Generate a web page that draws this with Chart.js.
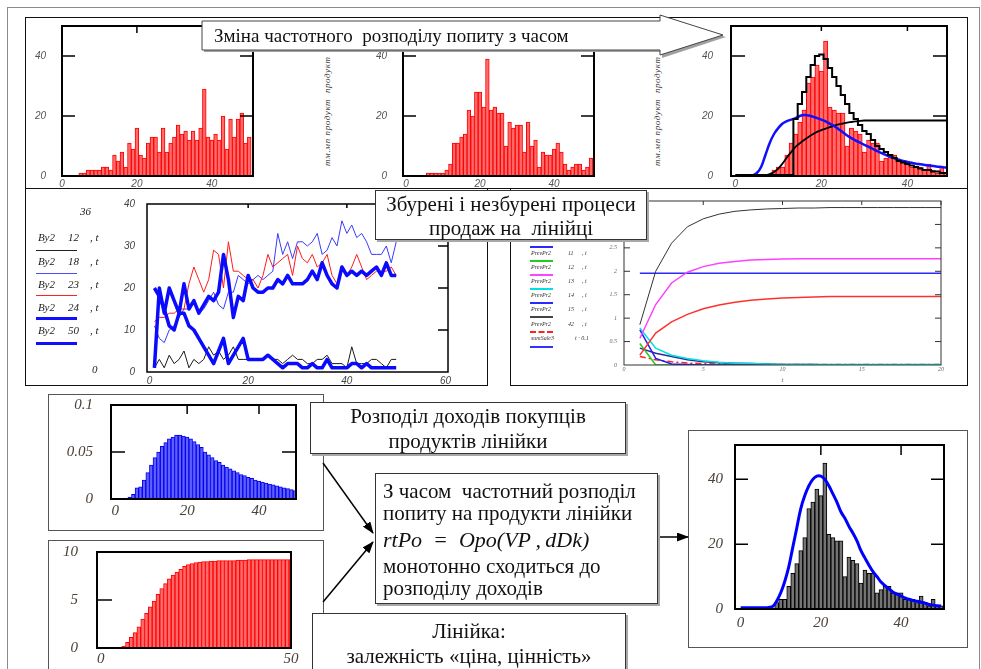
<!DOCTYPE html>
<html>
<head>
<meta charset="utf-8">
<script src="https://cdn.jsdelivr.net/npm/chart.js@4.4.1/dist/chart.umd.min.js"></script>
<style>
  body { margin: 0; width: 981px; height: 669px; overflow: hidden; position: relative; background: #fff; font-family: "Liberation Serif", serif; color: #111; }
  canvas { position: absolute; }
  .frame { position: absolute; border: 1px solid #111; box-sizing: border-box; }
  .box { position: absolute; background: #fff; border: 1px solid #333; box-sizing: border-box; box-shadow: 2px 2px 0 #a8a8a8; font-size: 21px; white-space: nowrap; }
  .lg { position: absolute; font: italic 11px "Liberation Serif", serif; color: #222; white-space: nowrap; }
  .lg5 { position: absolute; font: italic 6px "Liberation Serif", serif; color: #333; white-space: nowrap; }
  .ln { position: absolute; height: 0; }
  .rot { position: absolute; font: italic 9px "Liberation Serif", serif; color: #333; white-space: nowrap; letter-spacing: 0.6px; transform-origin: 0 0; transform: rotate(-90deg); }
</style>
</head>
<body>
<div class="frame" style="left:7px;top:7px;width:973px;height:670px;border-color:#8a8a8a"></div>
<div class="frame" style="left:25px;top:17px;width:943px;height:172px"></div>
<div class="frame" style="left:25px;top:188px;width:463px;height:198px"></div>
<div class="frame" style="left:510px;top:188px;width:458px;height:198px"></div>
<div class="frame" style="left:48px;top:394px;width:276px;height:137px;border-color:#555"></div>
<div class="frame" style="left:48px;top:540px;width:276px;height:140px;border-color:#555"></div>
<div class="frame" style="left:688px;top:430px;width:280px;height:218px;border-color:#555"></div>

<div id="charts"></div>

<div class="rot" style="left:322px;top:166px">тм.мп продукт&nbsp; продукт</div>
<div class="rot" style="left:652px;top:166px">тм.мп продукт&nbsp; продукт</div>

<!-- legend of the disturbed / undisturbed sales plot -->
<div class="lg" style="left:80px;top:205px">36</div>
<div class="lg" style="left:38px;top:231px">Ву2</div><div class="lg" style="left:68px;top:231px">12</div><div class="lg" style="left:90px;top:231px">, t</div>
<div class="ln" style="left:36px;top:250px;width:41px;border-top:1px solid #222"></div>
<div class="lg" style="left:38px;top:255px">Ву2</div><div class="lg" style="left:68px;top:255px">18</div><div class="lg" style="left:90px;top:255px">, t</div>
<div class="ln" style="left:36px;top:273px;width:41px;border-top:1px solid #4a4aff"></div>
<div class="lg" style="left:38px;top:278px">Ву2</div><div class="lg" style="left:68px;top:278px">23</div><div class="lg" style="left:90px;top:278px">, t</div>
<div class="ln" style="left:36px;top:295px;width:41px;border-top:1px solid #ff2020"></div>
<div class="lg" style="left:38px;top:301px">Ву2</div><div class="lg" style="left:68px;top:301px">24</div><div class="lg" style="left:90px;top:301px">, t</div>
<div class="ln" style="left:36px;top:317px;width:41px;border-top:3px solid #1010ff"></div>
<div class="lg" style="left:38px;top:324px">Ву2</div><div class="lg" style="left:68px;top:324px">50</div><div class="lg" style="left:90px;top:324px">, t</div>
<div class="ln" style="left:36px;top:342px;width:41px;border-top:3px solid #1010ff"></div>
<div class="lg" style="left:92px;top:363px">0</div>

<!-- legend of the price process plot -->
<div class="ln" style="left:530px;top:246px;width:23px;border-top:2px solid #2828ff"></div>
<div class="lg5" style="left:531px;top:250px">PrevPr2</div><div class="lg5" style="left:568px;top:250px">11</div><div class="lg5" style="left:582px;top:250px">, t</div>
<div class="ln" style="left:530px;top:260px;width:23px;border-top:2px solid #22cc22"></div>
<div class="lg5" style="left:531px;top:264px">PrevPr2</div><div class="lg5" style="left:568px;top:264px">12</div><div class="lg5" style="left:582px;top:264px">, t</div>
<div class="ln" style="left:530px;top:274px;width:23px;border-top:2px solid #ff44ff"></div>
<div class="lg5" style="left:531px;top:278px">PrevPr2</div><div class="lg5" style="left:568px;top:278px">13</div><div class="lg5" style="left:582px;top:278px">, t</div>
<div class="ln" style="left:530px;top:288px;width:23px;border-top:2px solid #00e0e0"></div>
<div class="lg5" style="left:531px;top:292px">PrevPr2</div><div class="lg5" style="left:568px;top:292px">14</div><div class="lg5" style="left:582px;top:292px">, t</div>
<div class="ln" style="left:530px;top:302px;width:23px;border-top:2px solid #2828ff"></div>
<div class="lg5" style="left:531px;top:306px">PrevPr2</div><div class="lg5" style="left:568px;top:306px">15</div><div class="lg5" style="left:582px;top:306px">, t</div>
<div class="ln" style="left:530px;top:316px;width:23px;border-top:2px solid #444"></div>
<div class="lg5" style="left:531px;top:321px">PrevPr2</div><div class="lg5" style="left:568px;top:321px">42</div><div class="lg5" style="left:582px;top:321px">, t</div>
<div class="ln" style="left:530px;top:331px;width:23px;border-top:2px dashed #ff2020"></div>
<div class="lg5" style="left:531px;top:335px">sumSale3</div><div class="lg5" style="left:575px;top:335px">t · 0.1</div>
<div class="ln" style="left:530px;top:346px;width:23px;border-top:2px solid #3333ff"></div>

<svg width="981" height="669" style="position:absolute;left:0;top:0">
  <defs>
    <marker id="ah" markerWidth="12" markerHeight="9" refX="11" refY="4.5" orient="auto" markerUnits="userSpaceOnUse">
      <path d="M0,0 L12,4.5 L0,9 z" fill="#000"/>
    </marker>
  </defs>
  <polygon points="204,23 662,23 662,17 726,37 662,58 662,52 204,52" fill="#a0a0a0"/>
  <polygon points="202,21 660,21 660,15 723,35 660,55 660,50 202,50" fill="#fff" stroke="#444" stroke-width="1"/>
  <line x1="323" y1="463" x2="373" y2="533" stroke="#000" stroke-width="1.5" marker-end="url(#ah)"/>
  <line x1="323" y1="602" x2="373" y2="542" stroke="#000" stroke-width="1.5" marker-end="url(#ah)"/>
  <line x1="658" y1="537" x2="688" y2="537" stroke="#000" stroke-width="1.5" marker-end="url(#ah)"/>
</svg>

<div style="position:absolute;left:214px;top:25px;font-size:19px;line-height:21px;white-space:pre">Зміна частотного  розподілу попиту з часом</div>

<div class="box" style="left:375px;top:190px;width:272px;height:50px;text-align:center;line-height:24px;padding-top:1px">Збурені і незбурені процеси<br>продаж на&nbsp; лінійці</div>
<div class="box" style="left:310px;top:402px;width:316px;height:52px;text-align:center;line-height:25px;padding-top:1px">Розподіл доходів покупців<br>продуктів лінійки</div>
<div class="box" style="left:375px;top:473px;width:283px;height:131px;padding-left:7px">
  <div style="line-height:22px;margin-top:6px">З часом&nbsp; частотний розподіл</div>
  <div style="line-height:22px">попиту на продукти лінійки</div>
  <div style="line-height:31px;font-style:italic;font-size:22px">rtPo&nbsp; =&nbsp; Opo(VP&thinsp;,&thinsp;dDk)</div>
  <div style="line-height:22px">монотонно сходиться до</div>
  <div style="line-height:22px">розподілу доходів</div>
</div>
<div class="box" style="left:312px;top:613px;width:314px;height:66px;text-align:center;line-height:25px;padding-top:5px">Лінійка:<br>залежність «ціна, цінність»</div>

<script>
// bin numbers 1..50 (histogram categories and time steps)
const binX = [1,2,3,4,5,6,7,8,9,10,11,12,13,14,15,16,17,18,19,20,21,22,23,24,25,26,27,28,29,30,31,32,33,34,35,36,37,38,39,40,41,42,43,44,45,46,47,48,49,50];
const curveX = [0, ...binX.slice(0, 49)];   // 0..49
const fitX = [0, ...binX];                  // 0..50
const periods5 = binX.slice(0, 20);         // 1..20

// top row: frequency distribution of demand at three moments
const hist1 = [0,0,0,0,1,1,2,2,2,2,3,3,2,7,5,8,3,11,9,16,7,6,11,13,13,8,16,8,11,13,17,14,15,12,15,12,16,29,13,12,14,12,20,9,19,13,19,21,11,13];
const hist2 = [0,0,0,0,0,1,1,1,1,1,2,4,11,11,13,14,22,20,28,28,23,39,22,23,21,21,10,18,16,17,17,8,18,10,12,3,8,7,7,9,11,8,4,2,3,4,4,2,3,6];
const histFinal = [0,0,0,0,0,0,0,0,2,3,3,7,11,14,18,22,31,33,37,35,45,23,22,21,21,10,16,15,14,8,12,11,11,5,6,7,7,5,5,5,3,3,3,2,4,2,1,3,1,1];
const stepOutline = [0.3,0.3,0.3,0.3,0.3,0.3,0.3,0.3,0.3,0.3,0.3,0.3,0.3,0.3,19,24,28,33,37,40,40.5,39,36,33,30,27,24,21,19,17,15,14,12,10,9,8,7,6,5,4.5,4,3.5,3,2.5,2,2,1.5,1.5,1,1];
const demandCurve = [0,0,0,0,0.2,1,3,7,11,14,16,17.5,18.3,18.8,19.3,20,20.3,20.2,19.8,19.3,18.8,18.2,17.4,16.6,15.6,14.6,13.5,12.6,11.8,11.1,10.4,9.7,9,8.3,7.6,7,6.4,5.9,5.4,5,4.7,4.4,4.1,3.9,3.7,3.5,3.3,3.1,3,2.8];
const cumulCurve = [0,0.2,0.2,0.2,0.2,0.2,0.2,0.3,0.6,1.3,2.5,4.2,6.2,8,9.7,10.9,12,13,13.9,14.7,15.3,15.8,16.3,16.8,17.2,17.5,17.8,18,18.2,18.4,18.5,18.5,18.5,18.5,18.5,18.5,18.5,18.5,18.5,18.5,18.5,18.5,18.5,18.5,18.5,18.5,18.5,18.5,18.5,18.5];

// middle left: sales Ву2 of products 12, 18, 23, 24, 50 over time
const sales12 = [1,3,1,4,2,3,5,1,3,2,3,6,4,5,3,4,6,3,3,3,3,3,3,4,3,3,2,3,4,3,3,2,2,3,3,4,2,2,2,1,6,2,2,2,3,3,2,1,3,3];
const sales18 = [11,8,7,10,11,13,15,15,17,14,15,17,19,16,15,19,19,23,22,21,22,23,22,23,24,33,28,31,27,31,31,30,31,33,28,29,32,30,36,33,35,32,33,31,28,28,28,30,26,31];
const sales23 = [12,13,13,14,14,15,15,21,25,22,19,22,29,28,20,31,24,24,23,22,22,20,23,28,25,26,27,28,23,30,27,26,28,25,26,28,23,21,25,23,25,28,25,22,23,24,24,24,25,23];
const sales24 = [1,20,14,20,17,14,21,15,17,14,16,18,17,19,28,22,13,18,17,23,20,19,19,20,20,22,21,23,21,21,21,22,24,22,26,23,21,20,25,23,24,23,24,23,24,25,23,26,23,23];
const sales50 = [20,18,15,11,10,14,14,11,10,8,6,4,2,5,8,2,4,6,8,3,3,3,3,4,3,2,1,2,2,2,1,1,2,1,1,3,1,1,1,1,2,2,1,2,1,1,1,1,1,1];

// middle right: PrevPr2 processes and sumSale3
const prevBlack = [0.86,2.0,2.6,2.95,3.12,3.22,3.28,3.31,3.33,3.34,3.35,3.35,3.36,3.36,3.36,3.36,3.36,3.36,3.36,3.36];
const prevMagenta = [0.57,1.29,1.75,1.98,2.1,2.17,2.21,2.24,2.25,2.26,2.27,2.27,2.27,2.27,2.27,2.27,2.27,2.27,2.27,2.27];
const prevFlat = [1.96,1.96,1.96,1.96,1.96,1.96,1.96,1.96,1.96,1.96,1.96,1.96,1.96,1.96,1.96,1.96,1.96,1.96,1.96,1.96];
const prevRed = [0.21,0.68,0.92,1.08,1.2,1.28,1.34,1.38,1.41,1.43,1.44,1.45,1.46,1.46,1.46,1.46,1.46,1.46,1.46,1.46];
const prevCyan = [0.79,0.36,0.21,0.14,0.09,0.06,0.04,0.03,0.02,0.01,0.01,0.01,0.01,0.01,0.01,0.01,0.01,0.01,0.01,0.01];
const prevBlue = [0.75,0.14,0.02,0.01,0,0,0,0,0,0,0,0,0,0,0,0,0,0,0,0];
const prevGreen = [0.46,0,0,0,0,0,0,0,0,0,0,0,0,0,0,0,0,0,0,0];
const prevNavy = [0.36,0.25,0.18,0.11,0.07,0.05,0.04,0.03,0.02,0.01,0.01,0.01,0,0,0,0,0,0,0,0];
const sumSale = [0.18,0.11,0.07,0.04,0.03,0.02,0.02,0.01,0.01,0.01,0.01,0.01,0.01,0.01,0.01,0.01,0.01,0.01,0.01,0.01];

// bottom: income distribution, price-value line, fitted demand curve
const incomeDensity = [0,0,0,0.002,0.005,0.012,0.013,0.02,0.028,0.036,0.044,0.05,0.056,0.06,0.064,0.066,0.068,0.068,0.067,0.066,0.064,0.061,0.058,0.055,0.05,0.047,0.044,0.041,0.039,0.036,0.034,0.032,0.03,0.028,0.026,0.025,0.023,0.022,0.02,0.019,0.018,0.017,0.016,0.015,0.014,0.013,0.012,0.011,0.01,0.009];
const priceValue = [0,0,0,0,0,0.2,0.6,1.1,1.6,2.2,3,3.6,4.3,4.9,5.6,6.2,6.7,7.2,7.6,7.9,8.2,8.5,8.7,8.8,8.9,8.95,9,9,9.05,9.05,9.1,9.1,9.1,9.1,9.1,9.15,9.15,9.15,9.2,9.2,9.2,9.2,9.2,9.2,9.2,9.2,9.2,9.2,9.2,9.2];
const fitCurve = [0.4,0.4,0.4,0.4,0.4,0.4,0.4,0.5,0.8,2.5,5,8.5,13,19,25,31,35,38,40,41,41,40,38,35.5,33,30,28,25.5,23.4,21,18,15.7,13.5,11.5,10,8.3,7.2,6.2,5.2,4.6,4,3.4,3,2.6,2.4,2.1,1.8,1.4,1.2,1,0.9];

// tick labels
const ticksHist = [0, 20, 40];
const ticksSales = [0, 10, 20, 30, 40];
const ticksSalesT = [0, 20, 40, 60];
const ticksPrev = [0, 0.5, 1, 1.5, 2, 2.5, 3, 3.5];
const ticksPrevT = [0, 5, 10, 15, 20];
const ticksDensity = [0, 0.05, 0.1];
const ticksPrice = [0, 5, 10];
const ticksPriceX = [0, 50];

Chart.defaults.font.family = '"Liberation Serif", serif';
Chart.defaults.animation = false;

// box round the plot plus the short inward ticks Mathcad draws
Chart.register({
  id: "frame",
  afterDatasetsDraw(chart, args, o) {
    const { ctx, chartArea: a, scales } = chart;
    ctx.save();
    ctx.strokeStyle = o.color;
    ctx.lineWidth = o.tickWidth;
    ctx.beginPath();
    for (const v of o.left) { const p = scales.y.getPixelForValue(v); ctx.moveTo(a.left, p); ctx.lineTo(a.left + o.len, p); }
    for (const v of o.right) { const p = scales.y.getPixelForValue(v); ctx.moveTo(a.right, p); ctx.lineTo(a.right - o.len, p); }
    for (const v of o.top) { const p = scales.x.getPixelForValue(v); ctx.moveTo(p, a.top); ctx.lineTo(p, a.top + o.topLen); }
    ctx.stroke();
    ctx.lineWidth = o.width;
    ctx.strokeRect(a.left, a.top, a.right - a.left, a.bottom - a.top);
    ctx.restore();
  },
});

function frame(left, right, top, len, topLen, width, color) {
  return { left, right, top, len, topLen, width, tickWidth: width === 1 ? 1 : 1.5, color: color || "#000" };
}

function axis(min, max, ticks, font, color, padding) {
  return {
    type: "linear", min, max, offset: false,
    grid: { display: false, drawTicks: false },
    border: { display: false },
    afterBuildTicks: (s) => { s.ticks = ticks.map((v) => ({ value: v })); },
    ticks: { font, color, padding, maxRotation: 0, autoSkip: false, callback: (v) => String(v) },
  };
}

function bars(xs, ys, fill, border) {
  return {
    type: "bar", data: xs.map((x, i) => ({ x, y: ys[i] })),
    backgroundColor: fill, borderColor: border, borderWidth: 1,
    barPercentage: 1, categoryPercentage: 1, grouped: false, order: 2,
  };
}

function line(xs, ys, color, width, extra) {
  return Object.assign({
    type: "line", data: xs.map((x, i) => ({ x, y: ys[i] })),
    borderColor: color, borderWidth: width, pointRadius: 0, fill: false, tension: 0, order: 1,
  }, extra || {});
}

// plot box in page pixels; canvas is grown round it for the axes.
// the y labels' padding also pads the chart area top/bottom, so leave room for it
function makeChart(p, type, datasets, scales, frameOpts) {
  const ypad = scales.y.ticks.padding;
  const pt = Math.max(p.pt, ypad + 12), xh = Math.max(p.xh, ypad + 12);
  const c = document.createElement("canvas");
  const w = p.yw + (p.r - p.l) + p.pr, h = pt + (p.b - p.t) + xh;
  c.width = w; c.height = h;
  c.style.left = p.l - p.yw + "px"; c.style.top = p.t - pt + "px";
  c.style.width = w + "px"; c.style.height = h + "px";
  document.getElementById("charts").appendChild(c);
  scales.x.afterFit = (s) => { s.height = xh; };
  scales.y.afterFit = (s) => { s.width = p.yw; };
  return new Chart(c, {
    type,
    data: { datasets },
    options: {
      responsive: false,
      layout: { padding: { top: pt, right: p.pr, left: 0, bottom: 0 } },
      plugins: { legend: { display: false }, tooltip: { enabled: false }, frame: frameOpts },
      scales,
    },
  });
}

const topFont = { size: 10, style: "italic", family: '"Liberation Sans", sans-serif' };
const midFont = { size: 10, style: "italic", family: '"Liberation Sans", sans-serif' };
const tinyFont = { size: 6, style: "italic" };
const lowFont = { size: 15, style: "italic" };
const redFill = "#ff6b6b", red = "#ff0000";

// top row
makeChart({ l: 62, t: 26, r: 253, b: 176, yw: 40, xh: 16, pt: 10, pr: 12 }, "bar",
  [bars(binX, hist1, redFill, red)],
  { x: axis(0, 51, ticksHist, topFont, "#555", 2), y: axis(0, 50, ticksHist, topFont, "#555", 16) },
  frame([20, 40], [20, 40], [20, 40], 13, 7, 2));

makeChart({ l: 403, t: 26, r: 594, b: 176, yw: 40, xh: 16, pt: 10, pr: 12 }, "bar",
  [bars(binX, hist2, redFill, red)],
  { x: axis(-0.8, 50.8, ticksHist, topFont, "#555", 2), y: axis(0, 50, ticksHist, topFont, "#555", 16) },
  frame([20, 40], [20, 40], [20, 40], 13, 7, 2));

makeChart({ l: 731, t: 26, r: 947, b: 176, yw: 40, xh: 16, pt: 10, pr: 12 }, "bar",
  [
    line(curveX, stepOutline, "#000", 2, { stepped: "middle" }),
    line(curveX, demandCurve, "#1010ff", 2.5, { tension: 0.4 }),
    line(curveX, cumulCurve, "#000", 1.8, { tension: 0.4 }),
    bars(binX, histFinal, redFill, red),
  ],
  { x: axis(-1, 49.2, ticksHist, topFont, "#555", 2), y: axis(0, 50, ticksHist, topFont, "#555", 18) },
  frame([20, 40], [20, 40], [20, 40], 14, 5, 2));

// middle row
makeChart({ l: 147, t: 204, r: 448, b: 372, yw: 40, xh: 18, pt: 10, pr: 14 }, "line",
  [
    line(binX, sales50, "#0a0aff", 3.5, { order: 1, borderJoinStyle: "round" }),
    line(binX, sales24, "#0a0aff", 3.5, { order: 1, borderJoinStyle: "round" }),
    line(binX, sales23, "#ff1a1a", 1, { order: 2 }),
    line(binX, sales18, "#3a3aff", 1, { order: 3 }),
    line(binX, sales12, "#1a1a1a", 1, { order: 4 }),
  ],
  { x: axis(-0.5, 60.5, ticksSalesT, midFont, "#444", 3), y: axis(0, 40, ticksSales, midFont, "#444", 12) },
  frame([], [10, 20, 30], [20, 40], 10, 4, 1.5));

makeChart({ l: 624, t: 201, r: 941, b: 365, yw: 30, xh: 17, pt: 10, pr: 12 }, "line",
  [
    line(periods5, prevBlack, "#333", 1),
    line(periods5, prevMagenta, "#ff40ff", 1.5),
    line(periods5, prevFlat, "#2a2aff", 1.5),
    line(periods5, prevRed, "#ff3030", 1.5),
    line(periods5, prevCyan, "#00e0e0", 1.5),
    line(periods5, prevBlue, "#2020ee", 1.5),
    line(periods5, prevGreen, "#22cc22", 1.5),
    line(periods5, prevNavy, "#2a2aa0", 1.5),
    line(periods5, sumSale, "#ff2020", 1.5, { borderDash: [6, 3, 2, 3] }),
  ],
  {
    x: Object.assign(axis(0, 20, ticksPrevT, tinyFont, "#666", 1),
      { title: { display: true, text: "t", font: { size: 7, style: "italic" }, color: "#666", padding: 0 } }),
    y: axis(0, 3.5, ticksPrev, tinyFont, "#666", 7),
  },
  frame([0.5, 1, 1.5, 2, 2.5, 3], [0.5, 1, 1.5, 2, 2.5, 3], [5, 10, 15, 20], 6, 4, 1, "#333"));

// bottom row
makeChart({ l: 111, t: 405, r: 296, b: 499, yw: 60, xh: 22, pt: 10, pr: 12 }, "bar",
  [bars(binX, incomeDensity, "#6060ff", "#0000ee")],
  { x: axis(-1.2, 50.3, ticksHist, lowFont, "#4b4137", 3), y: axis(0, 0.1, ticksDensity, lowFont, "#4b4137", 18) },
  frame([0.05], [0.05], [20, 40], 14, 9, 2));

makeChart({ l: 97, t: 552, r: 291, b: 648, yw: 45, xh: 20, pt: 10, pr: 14 }, "bar",
  [bars(binX, priceValue, redFill, red)],
  { x: axis(-1, 50, ticksPriceX, lowFont, "#4b4137", 2), y: axis(0, 10, ticksPrice, lowFont, "#4b4137", 19) },
  frame([5], [], [], 15, 0, 2));

makeChart({ l: 735, t: 445, r: 944, b: 609, yw: 45, xh: 22, pt: 10, pr: 14 }, "bar",
  [line(fitX, fitCurve, "#0000ff", 3, { tension: 0.4 }), bars(binX, histFinal, "#747474", "#000")],
  { x: axis(-1.4, 50.7, ticksHist, lowFont, "#4b4137", 5), y: axis(0, 50.6, ticksHist, lowFont, "#4b4137", 12) },
  frame([20, 40], [20, 40], [20, 40], 13, 10, 2));
</script>
</body>
</html>
